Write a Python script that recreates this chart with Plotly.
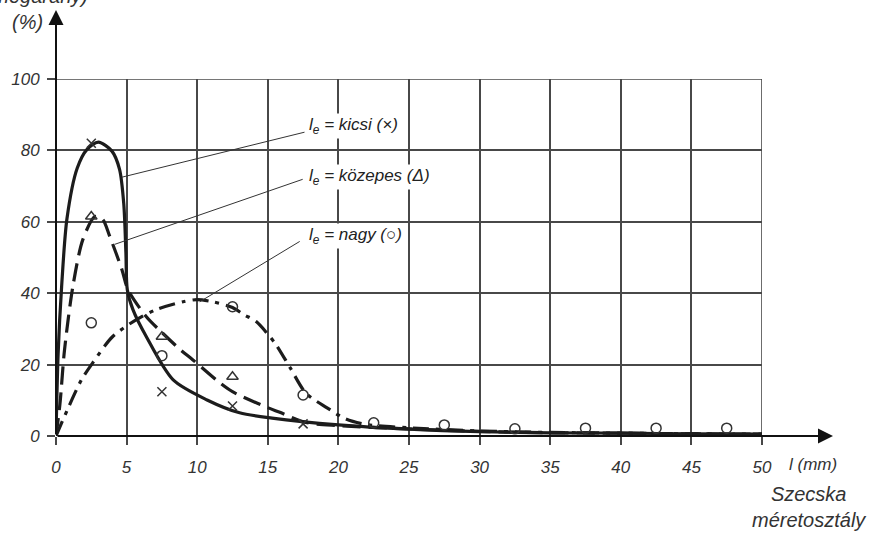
import plotly.graph_objects as go

# ---- data ----
kicsi_x = [0, 0.15, 0.4, 0.78, 1.5, 2.2, 3.0, 3.96, 4.5, 4.8, 4.95, 5.05, 5.45, 6.4, 8.3, 10.7, 13, 15.3, 20, 25, 30, 35, 40, 45, 50]
kicsi_y = [0, 23, 42, 61, 75, 80.3, 82.3, 79.8, 74.7, 65, 51.4, 41, 35.4, 27.8, 15.7, 10.1, 6.5, 5, 3.1, 1.9, 1.2, 0.9, 0.8, 0.6, 0.5]

kozepes_x = [0, 0.28, 0.6, 1.2, 1.9, 2.76, 3.3, 3.8, 4.67, 5.1, 6.4, 7.5, 8.8, 9.7, 11.6, 12.5, 14.9, 15.8, 17.7, 20, 25, 30, 35, 40, 45, 50]
kozepes_y = [0, 9, 24, 42, 55, 61.5, 60.7, 56, 46.6, 41, 33.4, 29, 24.2, 21.3, 14.9, 12.4, 8.1, 6.7, 3.8, 2.9, 2.0, 1.3, 0.9, 0.8, 0.6, 0.5]

nagy_x = [0, 0.8, 1.8, 2.6, 4, 5.7, 7.1, 9, 10, 11.1, 12.5, 13.3, 14.2, 14.9, 15.6, 16.6, 17.7, 19.2, 20.5, 22, 25, 30, 35, 40, 45, 50]
nagy_y = [0, 7.3, 15.7, 20.5, 27.8, 32.6, 35.4, 37.6, 38.2, 37.6, 36, 34, 32, 29, 25.5, 19, 12, 7.9, 4.8, 3.2, 2.3, 1.4, 1.0, 0.8, 0.6, 0.5]

kicsi_pts_x = [2.5, 7.5, 12.5, 17.5]
kicsi_pts_y = [82, 12.4, 8.4, 3.4]
kozepes_pts_x = [2.5, 7.5, 12.5]
kozepes_pts_y = [61.5, 27.8, 16.6]
nagy_pts_x = [2.5, 7.5, 12.5, 17.5, 22.5, 27.5, 32.5, 37.5, 42.5, 47.5]
nagy_pts_y = [31.7, 22.5, 36.2, 11.5, 3.7, 3.1, 2.0, 2.2, 2.2, 2.2]

x_ticks = [0, 5, 10, 15, 20, 25, 30, 35, 40, 45, 50]
y_ticks = [0, 20, 40, 60, 80, 100]

labels = ["<i>l<sub>e</sub> = kicsi (×)</i>",
          "<i>l<sub>e</sub> = közepes (Δ)</i>",
          "<i>l<sub>e</sub> = nagy (○)</i>"]
# leader lines: (curve point) -> (label point)
leader_from = [(4.67, 72.5), (4.17, 53.7), (10.18, 37.6)]
leader_to = [(17.6, 85.1), (17.47, 71.9), (17.26, 54.5)]
label_pos = [(17.75, 86.8), (17.75, 72.5), (17.75, 55.9)]

INK = "#1c1c1c"
GRID = "#484848"
FONT = "Liberation Sans"

fig = go.Figure()

fig.add_trace(go.Scatter(x=nagy_x, y=nagy_y, mode="lines", line_shape="spline",
                         line=dict(color=INK, width=3.2, dash="16px,7px,4px,7px", smoothing=0.8)))
fig.add_trace(go.Scatter(x=kozepes_x, y=kozepes_y, mode="lines", line_shape="spline",
                         line=dict(color=INK, width=3.2, dash="18px,8px", smoothing=0.8)))
fig.add_trace(go.Scatter(x=kicsi_x, y=kicsi_y, mode="lines", line_shape="spline",
                         line=dict(color=INK, width=3.2, smoothing=0.8)))

fig.add_trace(go.Scatter(x=kicsi_pts_x, y=kicsi_pts_y, mode="markers",
                         marker=dict(symbol="x-thin", size=9, line=dict(color="#333", width=1.5))))
fig.add_trace(go.Scatter(x=kozepes_pts_x, y=kozepes_pts_y, mode="markers",
                         marker=dict(symbol="triangle-up-open", size=10, color="#333", line=dict(width=1.5))))
fig.add_trace(go.Scatter(x=nagy_pts_x, y=nagy_pts_y, mode="markers",
                         marker=dict(symbol="circle-open", size=10, color="#333", line=dict(width=1.5))))

# leader lines
for (x0, y0), (x1, y1) in zip(leader_from, leader_to):
    fig.add_shape(type="line", x0=x0, y0=y0, x1=x1, y1=y1, xref="x", yref="y",
                  line=dict(color="#333", width=1))

# labels
for txt, (lx, ly) in zip(labels, label_pos):
    fig.add_annotation(x=lx, y=ly, xref="x", yref="y", text=txt, showarrow=False,
                       xanchor="left", yanchor="middle", bgcolor="white",
                       font=dict(family=FONT, size=17, color="#222"))

# edge grid lines (top and right)
fig.add_shape(type="line", x0=0, x1=50, y0=100, y1=100, xref="x", yref="y",
              line=dict(color=GRID, width=1.6), layer="below")
fig.add_shape(type="line", x0=50, x1=50, y0=0, y1=100, xref="x", yref="y",
              line=dict(color=GRID, width=1.6), layer="below")

# axes with arrows
fig.add_annotation(x=1.1006, y=0, xref="paper", yref="paper", ax=-777, ay=0,
                   axref="pixel", ayref="pixel", text="", showarrow=True,
                   arrowhead=2, arrowsize=1.5, arrowwidth=2, arrowcolor="#111")
fig.add_annotation(x=0, y=1.193, xref="paper", yref="paper", ax=0, ay=426,
                   axref="pixel", ayref="pixel", text="", showarrow=True,
                   arrowhead=2, arrowsize=1.5, arrowwidth=2, arrowcolor="#111")

# axis texts
fig.add_annotation(x=1.0354, y=-0.081, xref="paper", yref="paper", text="<i>l (mm)</i>",
                   showarrow=False, xanchor="left", yanchor="middle",
                   font=dict(family=FONT, size=17, color="#333"))
fig.add_annotation(x=1.066, y=-0.198, xref="paper", yref="paper",
                   text="<i>Szecska<br>méretosztály</i>", showarrow=False,
                   xanchor="center", yanchor="middle", align="center",
                   font=dict(family=FONT, size=20, color="#333"))
fig.add_annotation(x=-0.041, y=1.16, xref="paper", yref="paper", text="<i>(%)</i>",
                   showarrow=False, xanchor="center", yanchor="middle",
                   font=dict(family=FONT, size=20, color="#333"))
fig.add_annotation(x=0.048, y=1.2325, xref="paper", yref="paper", text="<i>(tömegarány)</i>",
                   showarrow=False, xanchor="right", yanchor="middle",
                   font=dict(family=FONT, size=20, color="#333"))

fig.update_layout(
    width=879, height=534,
    margin=dict(l=56, r=117, t=79, b=98),
    paper_bgcolor="white", plot_bgcolor="white",
    showlegend=False,
    xaxis=dict(range=[0, 50], tickvals=x_ticks, showgrid=True, gridcolor=GRID, gridwidth=1.6,
               zeroline=False, showline=False, ticks="outside", ticklen=8, tickwidth=1.6,
               tickcolor=GRID, ticklabelstandoff=8,
               tickfont=dict(family=FONT, size=17, color="#333", style="italic")),
    yaxis=dict(range=[0, 100], tickvals=y_ticks, showgrid=True, gridcolor=GRID, gridwidth=1.6,
               zeroline=False, showline=False, ticks="outside", ticklen=8, tickwidth=1.6,
               tickcolor=GRID, ticklabelstandoff=4,
               tickfont=dict(family=FONT, size=17, color="#333", style="italic")),
)

fig.write_html("out.html")
